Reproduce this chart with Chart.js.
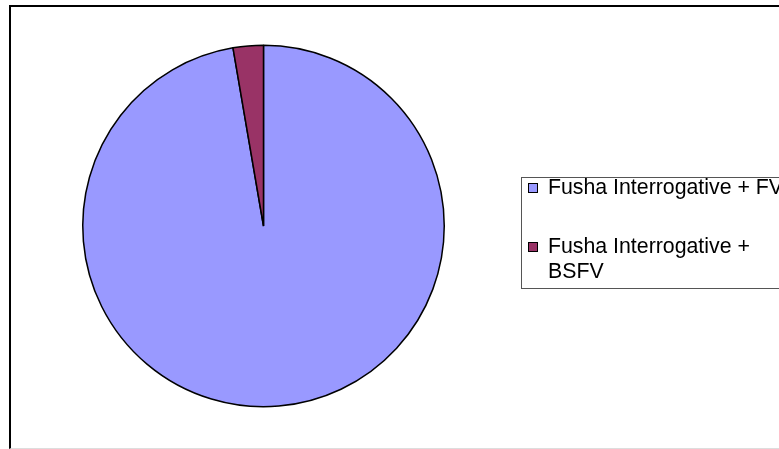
<!DOCTYPE html>
<html>
<head>
<meta charset="utf-8">
<script src="https://cdn.jsdelivr.net/npm/chart.js@4.4.1/dist/chart.umd.min.js"></script>
<style>
  html, body { margin: 0; padding: 0; background: #fff; overflow: hidden; }
  #wrap { position: relative; width: 779px; height: 449px; }
  #frame {
    position: absolute; left: 9px; top: 5px; width: 800px; height: 441px;
    border-left: 2px solid #000; border-top: 2px solid #000; border-bottom: 1px solid #ddd;
  }
  canvas { position: absolute; left: 0; top: 0; }
</style>
</head>
<body>
<div id="wrap">
  <div id="frame"></div>
  <canvas id="c" width="779" height="449"></canvas>
</div>
<script>
// Categories and their shares
const categories = ['Fusha Interrogative + FV', 'Fusha Interrogative + BSFV'];
const shares = [97.3, 2.7];
const sliceColors = ['#9999FF', '#993366'];

// Legend box drawn on the right, text wrapped to the box width
const legendBox = {
  id: 'legendBox',
  afterDraw(chart) {
    const ctx = chart.ctx;
    const left = 521, top = 177, bottom = 288;
    const font = '21.3px "Liberation Sans", Arial, sans-serif';
    const maxTextWidth = 240;
    const lineH = 25;
    ctx.save();
    ctx.strokeStyle = '#555';
    ctx.lineWidth = 1;
    ctx.strokeRect(left + 0.5, top + 0.5, 400, bottom - top);
    ctx.font = font;
    ctx.textBaseline = 'middle';
    ctx.fillStyle = '#000';
    const items = chart.data.labels;
    const rowY = [188, 247];
    items.forEach((label, i) => {
      // simple word wrap
      const words = label.split(' ');
      const lines = [];
      let cur = '';
      words.forEach(w => {
        const test = cur ? cur + ' ' + w : w;
        if (ctx.measureText(test).width > maxTextWidth && cur) { lines.push(cur); cur = w; }
        else cur = test;
      });
      lines.push(cur);
      const y = rowY[i];
      ctx.fillStyle = chart.data.datasets[0].backgroundColor[i];
      ctx.fillRect(528, y - 5, 10, 10);
      ctx.strokeStyle = '#000';
      ctx.lineWidth = 1;
      ctx.strokeRect(528.5, y - 4.5, 9, 9);
      ctx.fillStyle = '#000';
      lines.forEach((ln, k) => ctx.fillText(ln, 548, y + k * lineH));
    });
    ctx.restore();
  }
};

new Chart(document.getElementById('c'), {
  type: 'pie',
  data: {
    labels: categories,
    datasets: [{
      data: shares,
      backgroundColor: sliceColors,
      borderColor: '#000',
      borderWidth: 1.5
    }]
  },
  options: {
    responsive: false,
    animation: false,
    layout: { padding: { left: 82, right: 334, top: 44, bottom: 41 } },
    plugins: { legend: { display: false }, tooltip: { enabled: false } }
  },
  plugins: [legendBox]
});
</script>
</body>
</html>
